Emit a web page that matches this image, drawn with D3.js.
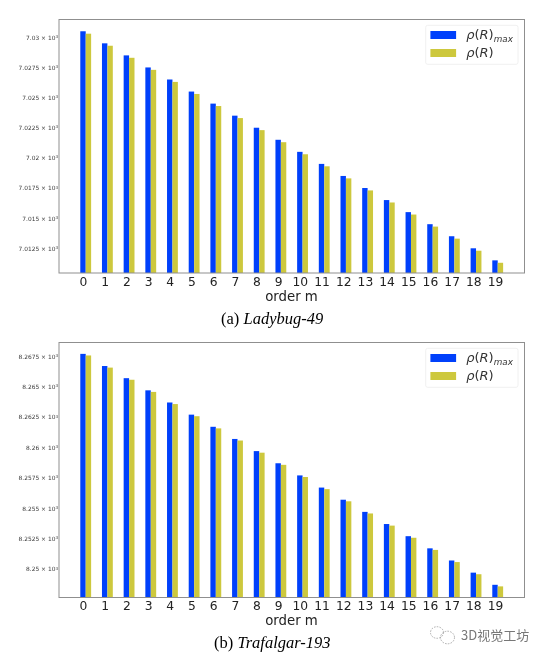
<!DOCTYPE html>
<html><head><meta charset="utf-8">
<script src="https://cdn.jsdelivr.net/npm/d3@7/dist/d3.min.js"></script>
<style>html,body{margin:0;padding:0;background:#fff}svg{display:block}</style>
</head><body><svg id="c" width="546" height="660"></svg>
<script>
const orders=[0,1,2,3,4,5,6,7,8,9,10,11,12,13,14,15,16,17,18,19];
const ladybugMax=[7.0305,7.0295,7.0285,7.0275,7.0265,7.0255,7.0245,7.0235,7.0225,7.0215,7.0205,7.0195,7.0185,7.0175,7.0165,7.0155,7.0145,7.0135,7.0125,7.0115];
const ladybugVal=[7.0303,7.0293,7.0283,7.0273,7.0263,7.0253,7.0243,7.0233,7.0223,7.0213,7.0203,7.0193,7.0183,7.0173,7.0163,7.0153,7.0143,7.0133,7.0123,7.0113];
const ladybugTicks=[7.03,7.0275,7.025,7.0225,7.02,7.0175,7.015,7.0125];
const ladybugLabels=["7.03","7.0275","7.025","7.0225","7.02","7.0175","7.015","7.0125"];
const trafalgarMax=[8.2677,8.2667,8.2657,8.2647,8.2637,8.2627,8.2617,8.2607,8.2597,8.2587,8.2577,8.2567,8.2557,8.2547,8.2537,8.2527,8.2517,8.2507,8.2497,8.2487];
const trafalgarVal=[8.26757,8.26657,8.26557,8.26457,8.26357,8.26257,8.26157,8.26057,8.25957,8.25857,8.25757,8.25657,8.25557,8.25457,8.25357,8.25257,8.25157,8.25057,8.24957,8.24857];
const trafalgarTicks=[8.2675,8.265,8.2625,8.26,8.2575,8.255,8.2525,8.25];
const trafalgarLabels=["8.2675","8.265","8.2625","8.26","8.2575","8.255","8.2525","8.25"];
const blue="#0241fb", olive="#cdc83e";

const svg=d3.select("#c");
const defs=svg.append("defs");
defs.append("filter").attr("id","soft").attr("x","-5%").attr("y","-5%").attr("width","110%").attr("height","110%")
  .append("feGaussianBlur").attr("stdDeviation",0.35);
const root=svg.append("g").attr("filter","url(#soft)");

function panel(cfg){
  const L=59,R=524.5,T=cfg.top,B=cfg.bottom;
  const g=root.append("g");
  const x=d3.scaleLinear().domain([0,19]).range([83,495]);
  const y=d3.scaleLinear().domain(cfg.yDomain).range([cfg.y0,cfg.y1]);
  const w=x(0.25)-x(0);
  g.selectAll(".a").data(cfg.max).join("rect").attr("x",(d,i)=>x(orders[i])-w/2).attr("width",w)
    .attr("y",d=>y(d)).attr("height",d=>B-y(d)).attr("fill",blue);
  g.selectAll(".b").data(cfg.val).join("rect").attr("x",(d,i)=>x(orders[i])+w/2).attr("width",w)
    .attr("y",d=>y(d)).attr("height",d=>B-y(d)).attr("fill",olive);
  g.append("rect").attr("x",L).attr("y",T).attr("width",R-L).attr("height",B-T)
    .attr("fill","none").attr("stroke","#8f8f8f").attr("stroke-width",1);
  const ax=g.append("g").attr("transform",`translate(0,${B})`)
    .call(d3.axisBottom(x).tickValues(orders).tickFormat(d3.format("d")).tickSize(0).tickPadding(4));
  ax.select(".domain").remove();
  ax.selectAll("text").attr("font-family","DejaVu Sans").attr("font-size",12.3).attr("fill","#222");
  const ay=g.append("g").attr("transform",`translate(${L},0)`)
    .call(d3.axisLeft(y).tickValues(cfg.ticks).tickSize(0).tickPadding(1).tickFormat(()=>""));
  ay.select(".domain").remove();
  ay.selectAll("text").each(function(d,i){
    const t=d3.select(this).text(null).attr("font-family","DejaVu Sans").attr("font-size",5.9).attr("fill","#3a3a3a");
    t.append("tspan").text(cfg.labels[i]+" × 10");
    t.append("tspan").attr("dy",-1.9).attr("font-size",4.1).text("3");
  });
  g.append("text").attr("x",291.5).attr("y",B+27.7).attr("text-anchor","middle")
    .attr("font-family","DejaVu Sans").attr("font-size",13.3).attr("fill","#222").text("order m");
  // legend
  const ly=cfg.top+5.8;
  const lg=g.append("g").attr("transform",`translate(425.7,${ly})`);
  lg.append("rect").attr("width",92.3).attr("height",39).attr("rx",2).attr("fill","#fff").attr("stroke","#ececec").attr("stroke-width",0.8);
  lg.append("rect").attr("x",4.7).attr("y",5.7).attr("width",25.7).attr("height",8).attr("fill",blue);
  lg.append("rect").attr("x",4.7).attr("y",23.7).attr("width",25.7).attr("height",8).attr("fill",olive);
  const t1=lg.append("text").attr("x",40.5).attr("y",13.8).attr("font-family","DejaVu Sans").attr("font-size",13).attr("fill","#333");
  t1.append("tspan").attr("font-style","italic").text("ρ");
  t1.append("tspan").text("(");
  t1.append("tspan").attr("font-style","italic").text("R");
  t1.append("tspan").text(")");
  t1.append("tspan").attr("dy",2.5).attr("font-style","italic").attr("font-size",8.8).text("max");
  const t2=lg.append("text").attr("x",40.5).attr("y",31.8).attr("font-family","DejaVu Sans").attr("font-size",13).attr("fill","#333");
  t2.append("tspan").attr("font-style","italic").text("ρ");
  t2.append("tspan").text("(");
  t2.append("tspan").attr("font-style","italic").text("R");
  t2.append("tspan").text(")");
  // caption
  const c=g.append("text").attr("x",cfg.capX).attr("y",cfg.capY).attr("font-family","Liberation Serif").attr("font-size",16.5).attr("fill","#000");
  c.append("tspan").text(cfg.capA+" ");
  c.append("tspan").attr("font-style","italic").text(cfg.capB);
}
panel({top:19.5,bottom:273,yDomain:[7.03,7.0125],y0:37.3,y1:248.3,max:ladybugMax,val:ladybugVal,ticks:ladybugTicks,labels:ladybugLabels,capA:"(a)",capB:"Ladybug-49",capX:221,capY:324});
panel({top:342.5,bottom:597.5,yDomain:[8.2675,8.25],y0:356.3,y1:569,max:trafalgarMax,val:trafalgarVal,ticks:trafalgarTicks,labels:trafalgarLabels,capA:"(b)",capB:"Trafalgar-193",capX:214,capY:648});

// watermark
const wm=root.append("g").attr("fill","none").attr("stroke","#9a9a9a").attr("stroke-width",0.8).attr("stroke-dasharray","1.6 1.2");
wm.append("ellipse").attr("cx",437).attr("cy",632.5).attr("rx",6.5).attr("ry",5.8);
wm.append("ellipse").attr("cx",447.5).attr("cy",637.5).attr("rx",7).attr("ry",6.3);
root.append("text").attr("x",461).attr("y",640).attr("font-family","Noto Sans CJK SC").attr("font-size",13).attr("fill","#777").text("3D视觉工坊");
</script></body></html>
